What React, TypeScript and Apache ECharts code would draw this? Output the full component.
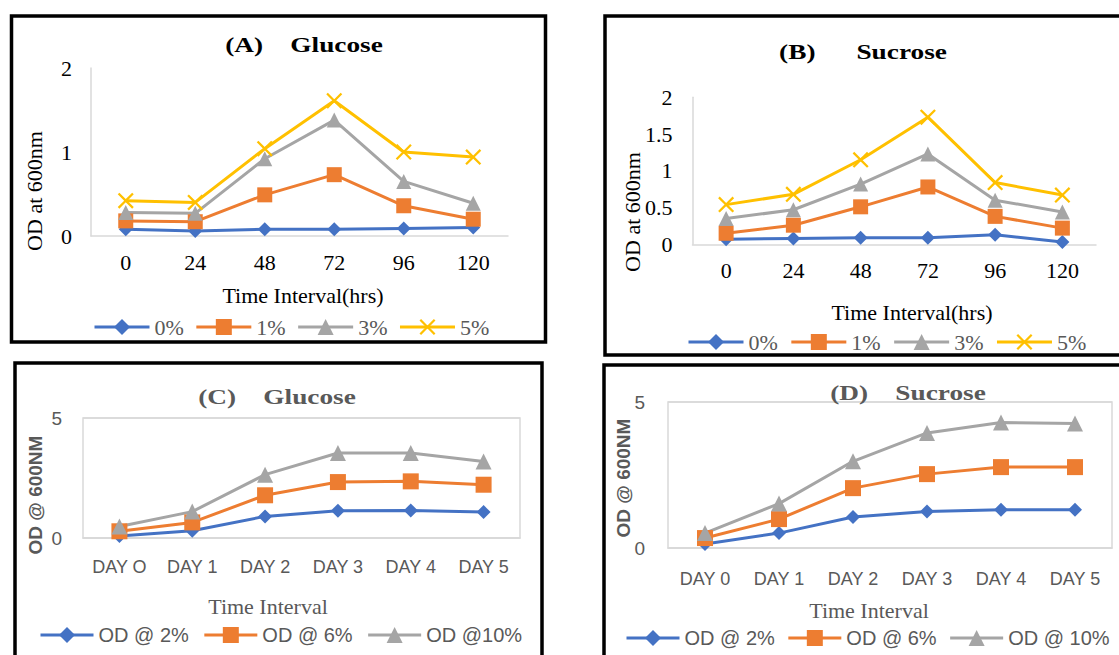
import React, { useEffect, useRef } from 'react';
import * as echarts from 'echarts';

// ---------- data ----------
const hours = ['0', '24', '48', '72', '96', '120'];
const daysC = ['DAY O', 'DAY 1', 'DAY 2', 'DAY 3', 'DAY 4', 'DAY 5'];
const daysD = ['DAY 0', 'DAY 1', 'DAY 2', 'DAY 3', 'DAY 4', 'DAY 5'];

const namesAB = ['0%', '1%', '3%', '5%'];
const namesC = ['OD @ 2%', 'OD @ 6%', 'OD @10%'];
const namesD = ['OD @ 2%', 'OD @ 6%', 'OD @ 10%'];

const glucA0 = [0.08, 0.06, 0.08, 0.08, 0.09, 0.1];
const glucA1 = [0.18, 0.17, 0.49, 0.73, 0.36, 0.2];
const glucA3 = [0.28, 0.27, 0.92, 1.38, 0.65, 0.39];
const glucA5 = [0.42, 0.4, 1.04, 1.61, 1.0, 0.94];

const sucB0 = [0.07, 0.08, 0.09, 0.09, 0.13, 0.03];
const sucB1 = [0.15, 0.26, 0.51, 0.78, 0.38, 0.22];
const sucB3 = [0.35, 0.47, 0.82, 1.23, 0.6, 0.44];
const sucB5 = [0.54, 0.68, 1.15, 1.73, 0.84, 0.67];

const glucC2 = [0.08, 0.3, 0.9, 1.14, 1.15, 1.08];
const glucC6 = [0.28, 0.65, 1.78, 2.33, 2.36, 2.22];
const glucC10 = [0.48, 1.1, 2.64, 3.54, 3.54, 3.19];

const sucD2 = [0.14, 0.51, 1.06, 1.25, 1.31, 1.31];
const sucD6 = [0.34, 0.99, 2.05, 2.53, 2.77, 2.77];
const sucD10 = [0.51, 1.52, 2.97, 3.94, 4.3, 4.26];

// ---------- styles ----------
const BLUE = '#4472C4';
const ORANGE = '#ED7D31';
const GRAY = '#A5A5A5';
const YELLOW = '#FFC000';
const TXT = '#595959';
const AXIS = '#D9D9D9';
const SERIF = '"Liberation Serif", "Times New Roman", serif';
const SANS = '"Liberation Sans", Arial, sans-serif';
const XMARK = 'path://M1,0 L5,4 L9,0 L10,1 L6,5 L10,9 L9,10 L5,6 L1,10 L0,9 L4,5 L0,1 Z';

const markers = [
  { symbol: 'diamond', size: 14, color: BLUE },
  { symbol: 'rect', size: 15, color: ORANGE },
  { symbol: 'triangle', size: 15, color: GRAY },
  { symbol: XMARK, size: 16, color: YELLOW },
];

function lineSeries(name: string, data: number[], idx: number, m: number, big = false) {
  const mk = markers[m];
  return {
    type: 'line',
    name,
    data,
    xAxisIndex: idx,
    yAxisIndex: idx,
    symbol: mk.symbol,
    symbolSize: big ? mk.size + 1 : mk.size,
    showSymbol: true,
    lineStyle: { color: mk.color, width: 3 },
    itemStyle: { color: mk.color },
    z: 3,
  };
}

function txt(text: string, x: number, y: number, font: string, size: number, fill: string, weight = 'normal', rot = 0, sx = 1) {
  return {
    type: 'text',
    x,
    y,
    rotation: rot,
    scaleX: sx,
    z: 10,
    style: {
      text,
      fontFamily: font,
      fontSize: size,
      fontWeight: weight,
      fill,
      align: 'center',
      verticalAlign: 'middle',
    },
  };
}

function box(x: number, y: number, w: number, h: number) {
  return {
    type: 'rect',
    shape: { x, y, width: w, height: h },
    style: { fill: 'none', stroke: '#000', lineWidth: 3.5 },
    z: 20,
  };
}

function legend(data: string[], left: number, top: number, w: number, gap: number, font: string, size: number) {
  return {
    data,
    left,
    top,
    width: 560,
    itemWidth: w,
    itemHeight: 20,
    itemGap: gap,
    lineStyle: { width: 3 },
    textStyle: { fontFamily: font, fontSize: size, color: TXT },
  };
}

export default function App() {
  const ref = useRef<HTMLDivElement>(null);

  useEffect(() => {
    if (!ref.current) return;
    const chart = echarts.init(ref.current, null, { renderer: 'svg' });

    const serifAxisLabel = { fontFamily: SERIF, fontSize: 22, color: '#000' };
    const sansAxisLabel = { fontFamily: SANS, fontSize: 18, color: TXT };

    const option = {
      animation: false,
      backgroundColor: '#fff',
      grid: [
        { left: 91, top: 68, width: 417, height: 168, show: false },
        { left: 692.5, top: 97.3, width: 403.5, height: 147, show: false },
        { left: 83, top: 418, width: 437, height: 120, show: true, borderColor: AXIS, borderWidth: 1.5 },
        { left: 668, top: 402, width: 444, height: 146, show: true, borderColor: AXIS, borderWidth: 1.5 },
      ],
      xAxis: [
        {
          type: 'category', gridIndex: 0, data: hours,
          axisLine: { show: true, lineStyle: { color: AXIS, width: 1.5 } },
          axisTick: { show: false },
          axisLabel: { ...serifAxisLabel, margin: 15 },
        },
        {
          type: 'category', gridIndex: 1, data: hours,
          axisLine: { show: true, lineStyle: { color: AXIS, width: 1.5 } },
          axisTick: { show: false },
          axisLabel: { ...serifAxisLabel, margin: 15 },
        },
        {
          type: 'category', gridIndex: 2, data: daysC,
          axisLine: { show: true, lineStyle: { color: AXIS, width: 1.5 } },
          axisTick: { show: false },
          axisLabel: { ...sansAxisLabel, margin: 20, interval: 0 },
        },
        {
          type: 'category', gridIndex: 3, data: daysD,
          axisLine: { show: true, lineStyle: { color: AXIS, width: 1.5 } },
          axisTick: { show: false },
          axisLabel: { ...sansAxisLabel, margin: 22, interval: 0 },
        },
      ],
      yAxis: [
        {
          type: 'value', gridIndex: 0, min: 0, max: 2, interval: 1,
          axisLine: { show: true, lineStyle: { color: AXIS, width: 1.5 } },
          axisTick: { show: false },
          splitLine: { show: false },
          axisLabel: { ...serifAxisLabel, margin: 19 },
        },
        {
          type: 'value', gridIndex: 1, min: 0, max: 2, interval: 0.5,
          axisLine: { show: true, lineStyle: { color: AXIS, width: 1.5 } },
          axisTick: { show: false },
          splitLine: { show: false },
          axisLabel: { ...serifAxisLabel, margin: 20 },
        },
        {
          type: 'value', gridIndex: 2, min: 0, max: 5, interval: 5,
          axisLine: { show: false },
          axisTick: { show: false },
          splitLine: { show: true, lineStyle: { color: AXIS, width: 1.5 } },
          axisLabel: { fontFamily: SANS, fontSize: 19, color: TXT, margin: 21 },
        },
        {
          type: 'value', gridIndex: 3, min: 0, max: 5, interval: 5,
          axisLine: { show: false },
          axisTick: { show: false },
          splitLine: { show: true, lineStyle: { color: AXIS, width: 1.5 } },
          axisLabel: { fontFamily: SANS, fontSize: 19, color: TXT, margin: 23 },
        },
      ],
      legend: [
        legend(namesAB, 88, 311, 55, 11, SERIF, 22),
        legend(namesAB, 682, 326, 55, 12, SERIF, 22),
        legend(namesC, 34, 620, 53, 14, SANS, 20),
        legend(namesD, 620, 623, 53, 12, SANS, 20),
      ],
      series: [
        lineSeries(namesAB[0], glucA0, 0, 0),
        lineSeries(namesAB[1], glucA1, 0, 1),
        lineSeries(namesAB[2], glucA3, 0, 2),
        lineSeries(namesAB[3], glucA5, 0, 3),
        lineSeries(namesAB[0], sucB0, 1, 0),
        lineSeries(namesAB[1], sucB1, 1, 1),
        lineSeries(namesAB[2], sucB3, 1, 2),
        lineSeries(namesAB[3], sucB5, 1, 3),
        lineSeries(namesC[0], glucC2, 2, 0),
        lineSeries(namesC[1], glucC6, 2, 1, true),
        lineSeries(namesC[2], glucC10, 2, 2, true),
        lineSeries(namesD[0], sucD2, 3, 0),
        lineSeries(namesD[1], sucD6, 3, 1, true),
        lineSeries(namesD[2], sucD10, 3, 2, true),
      ],
      graphic: [
        box(11.5, 16, 534, 326),
        box(605, 16, 600, 339),
        box(15, 363, 527, 400),
        box(604, 365, 600, 400),
        txt('(A)    Glucose', 304, 45, SERIF, 21, '#000', 'bold', 0, 1.3),
        txt('(B)      Sucrose', 863, 52, SERIF, 21, '#000', 'bold', 0, 1.3),
        txt('(C)    Glucose', 277, 397, SERIF, 21, TXT, 'bold', 0, 1.3),
        txt('(D)    Sucrose', 908, 393, SERIF, 21, TXT, 'bold', 0, 1.3),
        txt('OD at 600nm', 34, 191, SERIF, 22, '#000', 'normal', Math.PI / 2),
        txt('OD at 600nm', 632, 212, SERIF, 22, '#000', 'normal', Math.PI / 2),
        txt('OD @ 600NM', 35, 495, SANS, 19, TXT, 'bold', Math.PI / 2),
        txt('OD @ 600NM', 623, 478, SANS, 19, TXT, 'bold', Math.PI / 2),
        txt('Time Interval(hrs)', 303, 295, SERIF, 22, '#000'),
        txt('Time Interval(hrs)', 912, 312, SERIF, 22, '#000'),
        txt('Time Interval', 268, 606, SERIF, 22, TXT),
        txt('Time Interval', 869, 610, SERIF, 22, TXT),
      ],
    };

    chart.setOption(option as any);
    return () => chart.dispose();
  }, []);

  return (
    <div
      ref={ref}
      style={{ position: 'fixed', left: 0, top: 0, width: 1119, height: 655, background: '#fff' }}
    />
  );
}
